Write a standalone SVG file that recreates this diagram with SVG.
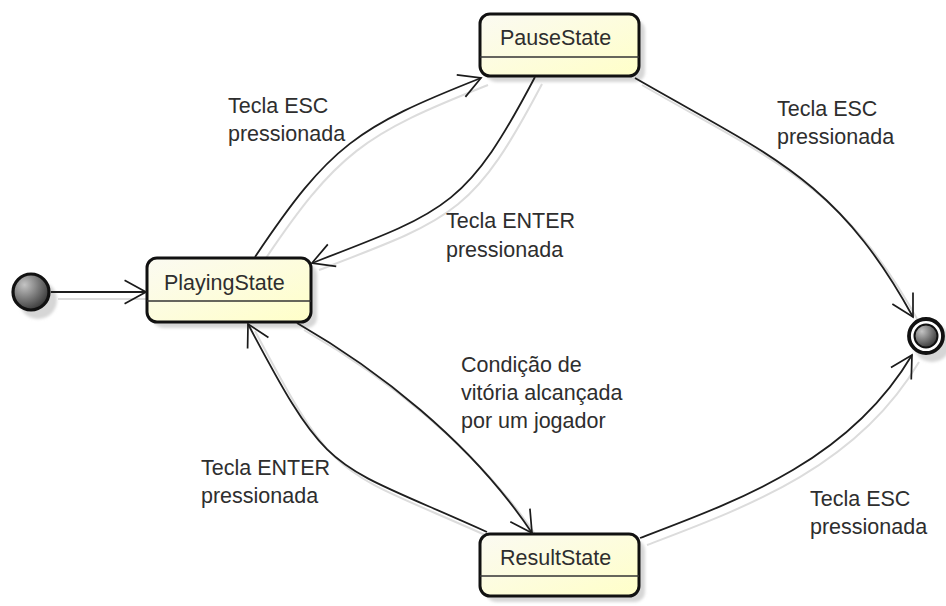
<svg xmlns="http://www.w3.org/2000/svg" width="946" height="606" viewBox="0 0 946 606">
  <defs>
    <linearGradient id="boxFill" x1="0" y1="0" x2="1" y2="1">
      <stop offset="0" stop-color="#fbfaf2"/>
      <stop offset="1" stop-color="#ffffc8"/>
    </linearGradient>
    <radialGradient id="ballFill" cx="0.32" cy="0.3" r="0.8">
      <stop offset="0" stop-color="#c4c4c4"/>
      <stop offset="1" stop-color="#2e2e2e"/>
    </radialGradient>
    <filter id="soft" x="-20%" y="-20%" width="140%" height="140%">
      <feGaussianBlur stdDeviation="1.5"/>
    </filter>
    <marker id="arrow" markerUnits="userSpaceOnUse" markerWidth="30" markerHeight="30" viewBox="-22 -14 24 28" refX="0" refY="0" orient="auto">
      <path d="M-20,-11 L0,0 L-20,11" fill="none" stroke="#1a1a1a" stroke-width="1.6"/>
    </marker>
  </defs>
  <style>
    .shadow { fill: #d6d6d6; filter: url(#soft); }
    .box { fill: url(#boxFill); stroke: #111; stroke-width: 3; }
    .div { stroke: #333; stroke-width: 1.5; }
    .name { font-family: "Liberation Sans", Arial, sans-serif; font-size: 21.5px; fill: #2e2e2e; }
    .lbl { font-family: "Liberation Sans", Arial, sans-serif; font-size: 21.5px; fill: #2e2e2e; }
    .edge { fill: none; stroke: #1e1e1e; stroke-width: 1.8; marker-end: url(#arrow); }
    .eshadow { fill: none; stroke: #dcdcdc; stroke-width: 2; }
  </style>
  <rect width="946" height="606" fill="#ffffff"/>

  <g id="connectors">
    <g transform="translate(7,7)">
      <path class="eshadow" d="M51,292 L146,292"/>
      <path class="eshadow" d="M255,257 C330,145 357,127 481,78"/>
      <path class="eshadow" d="M535,77 C467,206 448,211 312,263"/>
      <path class="eshadow" d="M635,78 C768,155 836,177 913,317"/>
      <path class="eshadow" d="M640,538 C740,500 850,460 912,355"/>
      <path class="eshadow" d="M297,323 C375,368 470,440 532,533"/>
      <path class="eshadow" d="M487,532 C328,460 331,481 248,324"/>
    </g>
  </g>

  <g id="initial">
    <circle cx="38" cy="300" r="19" class="shadow"/>
    <circle cx="31" cy="292" r="18" fill="url(#ballFill)" stroke="#111" stroke-width="3.2"/>
  </g>

  <g id="PlayingState">
    <rect x="153" y="264" width="164" height="64" rx="10" class="shadow"/>
    <rect x="147" y="258" width="164" height="64" rx="10" class="box"/>
    <line x1="147" y1="301" x2="311" y2="301" class="div"/>
    <text x="164" y="290" class="name">PlayingState</text>
  </g>

  <g id="PauseState">
    <rect x="486" y="20" width="159" height="62" rx="10" class="shadow"/>
    <rect x="480" y="14" width="159" height="62" rx="10" class="box"/>
    <line x1="480" y1="57" x2="639" y2="57" class="div"/>
    <text x="500" y="45" class="name">PauseState</text>
  </g>

  <g id="ResultState">
    <rect x="486" y="540" width="159" height="62" rx="10" class="shadow"/>
    <rect x="480" y="534" width="159" height="62" rx="10" class="box"/>
    <line x1="480" y1="576" x2="639" y2="576" class="div"/>
    <text x="500" y="565" class="name">ResultState</text>
  </g>

  <g id="final">
    <circle cx="932" cy="343" r="19" class="shadow"/>
    <circle cx="926" cy="336" r="17" fill="#fff" stroke="#111" stroke-width="3.8"/>
    <circle cx="926" cy="336" r="11.5" fill="url(#ballFill)" stroke="#111" stroke-width="2"/>
  </g>

  <g id="edges">
    <path class="edge" d="M51,292 L146,292"/>
    <path class="edge" d="M255,257 C330,145 357,127 481,78"/>
    <path class="edge" d="M535,77 C467,206 448,211 312,263"/>
    <path class="edge" d="M635,78 C768,155 836,177 913,317"/>
    <path class="edge" d="M640,538 C740,500 850,460 912,355"/>
    <path class="edge" d="M297,323 C375,368 470,440 532,533"/>
    <path class="edge" d="M487,532 C328,460 331,481 248,324"/>
  </g>

  <g id="labels">
    <text class="lbl" x="228" y="113"><tspan x="228">Tecla ESC</tspan><tspan x="228" dy="28">pressionada</tspan></text>
    <text class="lbl" x="446" y="228"><tspan x="446">Tecla ENTER</tspan><tspan x="446" dy="28.5">pressionada</tspan></text>
    <text class="lbl" x="777" y="115.5"><tspan x="777">Tecla ESC</tspan><tspan x="777" dy="28.5">pressionada</tspan></text>
    <text class="lbl" x="461" y="371.5"><tspan x="461">Condição de</tspan><tspan x="461" dy="28.3">vitória alcançada</tspan><tspan x="461" dy="28.3">por um jogador</tspan></text>
    <text class="lbl" x="201" y="475"><tspan x="201">Tecla ENTER</tspan><tspan x="201" dy="28.3">pressionada</tspan></text>
    <text class="lbl" x="810" y="505.5"><tspan x="810">Tecla ESC</tspan><tspan x="810" dy="28">pressionada</tspan></text>
  </g>
</svg>
